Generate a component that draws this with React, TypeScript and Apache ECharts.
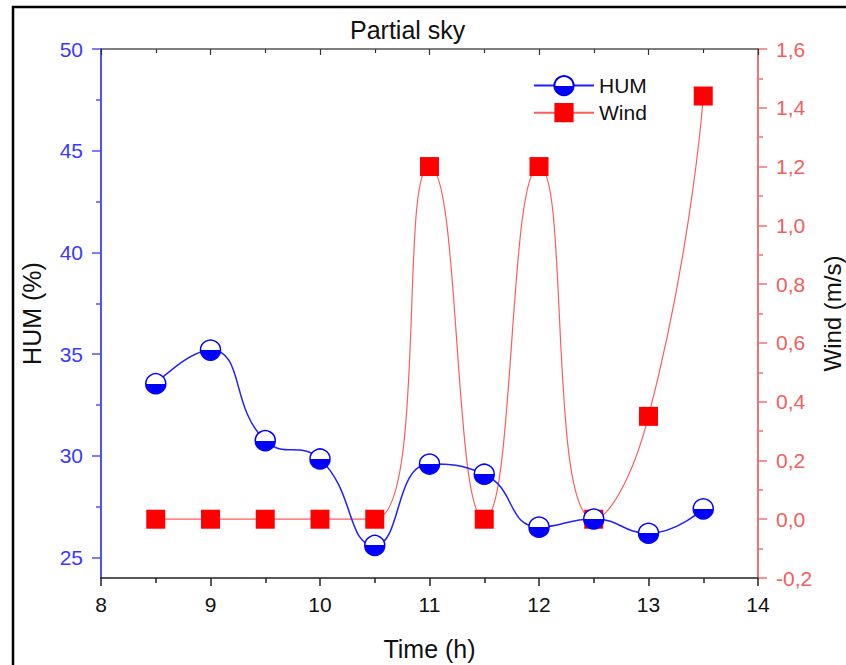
import React, { useEffect, useRef } from "react";
import * as echarts from "echarts";

const times = [8.5, 9, 9.5, 10, 10.5, 11, 11.5, 12, 12.5, 13, 13.5];
const humValues = [33.55, 35.2, 30.75, 29.85, 25.6, 29.6, 29.1, 26.5, 26.9, 26.2, 27.4];
const windValues = [0, 0, 0, 0, 0, 1.2, 0, 1.2, 0, 0.35, 1.44];
const humTicks = [25, 30, 35, 40, 45, 50];
const humMinorTicks = [27.5, 32.5, 37.5, 42.5, 47.5];

const FONT = "'Liberation Sans', Arial, sans-serif";
const BLUE = "#0000FF";
const AXIS_BLUE = "#5050FF";
const RED = "#FF0000";
const AXIS_RED = "#F07272";

export default function App() {
  const ref = useRef<HTMLDivElement>(null);
  useEffect(() => {
    if (!ref.current) return;
    const chart = echarts.init(ref.current, undefined, { renderer: "svg" });
    const humData = times.map((t, i) => [t, humValues[i]]);
    const windData = times.map((t, i) => [t, windValues[i]]);
    const halfFill = {
      type: "linear",
      x: 0, y: 0, x2: 0, y2: 1,
      colorStops: [
        { offset: 0, color: "#FFFFFF" },
        { offset: 0.5, color: "#FFFFFF" },
        { offset: 0.5, color: BLUE },
        { offset: 1, color: BLUE },
      ],
    };
    chart.setOption({
      animation: false,
      backgroundColor: "#FFFFFF",
      textStyle: { fontFamily: FONT },
      title: {
        text: "Partial sky",
        left: 345,
        top: 12,
        textStyle: { fontFamily: FONT, fontSize: 25, fontWeight: "normal", color: "#111" },
      },
      graphic: [
        {
          type: "rect",
          shape: { x: 13, y: 7, width: 900, height: 700 },
          style: { fill: "none", stroke: "#000", lineWidth: 2.5 },
          silent: true,
          z: 100,
        },
      ],
      legend: {
        orient: "vertical",
        left: 528,
        top: 70,
        itemWidth: 60,
        itemHeight: 24,
        itemGap: 6,
        data: ["HUM", "Wind"],
        textStyle: { fontFamily: FONT, fontSize: 21, color: "#111" },
      },
      grid: { left: 101, top: 49, right: 88, bottom: 87, containLabel: false, outerBoundsMode: "none" },
      xAxis: [
        {
          type: "value",
          min: 8,
          max: 14,
          interval: 1,
          position: "bottom",
          name: "Time (h)",
          nameLocation: "middle",
          nameGap: 58,
          nameTextStyle: { fontFamily: FONT, fontSize: 25, color: "#111" },
          axisLine: { show: true, onZero: false, lineStyle: { color: "#222", width: 1.5 } },
          axisTick: { show: true, inside: false, length: 8, lineStyle: { color: "#222", width: 1.5 } },
          minorTick: { show: true, splitNumber: 2, length: 5, lineStyle: { color: "#222", width: 1.5 } },
          axisLabel: { fontFamily: FONT, fontSize: 21, color: "#111", margin: 16 },
          splitLine: { show: false },
        },
        {
          type: "value",
          min: 8,
          max: 14,
          interval: 1,
          position: "top",
          axisLine: { show: true, onZero: false, lineStyle: { color: "#555", width: 1.5 } },
          axisTick: { show: true, inside: true, length: 6, lineStyle: { color: "#333", width: 1.2 } },
          minorTick: { show: true, splitNumber: 2, length: 4, lineStyle: { color: "#333", width: 1.2 } },
          axisLabel: { show: false },
          splitLine: { show: false },
        },
      ],
      yAxis: [
        {
          type: "value",
          min: 24,
          max: 50,
          position: "left",
          name: "HUM (%)",
          nameLocation: "middle",
          nameGap: 57,
          nameRotate: 90,
          nameMoveOverlap: false,
          nameTextStyle: { fontFamily: FONT, fontSize: 25, color: "#111" },
          axisLine: { show: true, onZero: false, lineStyle: { color: AXIS_BLUE, width: 2 } },
          axisTick: { show: true, inside: false, length: 9, customValues: humTicks, lineStyle: { color: AXIS_BLUE, width: 1.5 } },
          axisLabel: { fontFamily: FONT, fontSize: 21, color: "#3A3AFF", margin: 18, customValues: humTicks },
          splitLine: { show: false },
        },
        {
          type: "value",
          min: -0.2,
          max: 1.6,
          interval: 0.2,
          position: "right",
          name: "Wind (m/s)",
          nameLocation: "middle",
          nameGap: 62,
          nameRotate: 90,
          nameMoveOverlap: false,
          nameTextStyle: { fontFamily: FONT, fontSize: 24, color: "#111" },
          axisLine: { show: true, onZero: false, lineStyle: { color: AXIS_RED, width: 2 } },
          axisTick: { show: true, inside: false, length: 9, lineStyle: { color: AXIS_RED, width: 1.5 } },
          minorTick: { show: true, splitNumber: 2, length: 5, lineStyle: { color: AXIS_RED, width: 1.5 } },
          axisLabel: {
            fontFamily: FONT,
            fontSize: 21,
            color: "#F06060",
            margin: 18,
            formatter: (v: number) => (Math.round(v * 10) / 10).toFixed(1).replace(".", ","),
          },
          splitLine: { show: false },
        },
        {
          type: "value",
          min: 24,
          max: 50,
          position: "left",
          axisLine: { show: false },
          axisTick: { show: true, inside: false, length: 5, customValues: humMinorTicks, lineStyle: { color: AXIS_BLUE, width: 1.5 } },
          axisLabel: { show: false },
          splitLine: { show: false },
        },
      ],
      series: [
        {
          name: "Wind",
          type: "line",
          xAxisIndex: 0,
          yAxisIndex: 1,
          data: windData,
          smooth: 0.55,
          symbol: "rect",
          symbolSize: 19,
          lineStyle: { color: "#FF5C5C", width: 1.2 },
          itemStyle: { color: RED },
          z: 2,
        },
        {
          name: "HUM",
          type: "line",
          xAxisIndex: 0,
          yAxisIndex: 0,
          data: humData,
          smooth: 0.5,
          symbol: "circle",
          symbolSize: 20,
          lineStyle: { color: "#2020FF", width: 1.5 },
          itemStyle: { color: halfFill, borderColor: BLUE, borderWidth: 1.5 },
          z: 3,
        },
      ],
    });
    return () => chart.dispose();
  }, []);
  return (
    <div
      ref={ref}
      style={{ position: "fixed", left: 0, top: 0, width: 846, height: 665, background: "#fff" }}
    />
  );
}
